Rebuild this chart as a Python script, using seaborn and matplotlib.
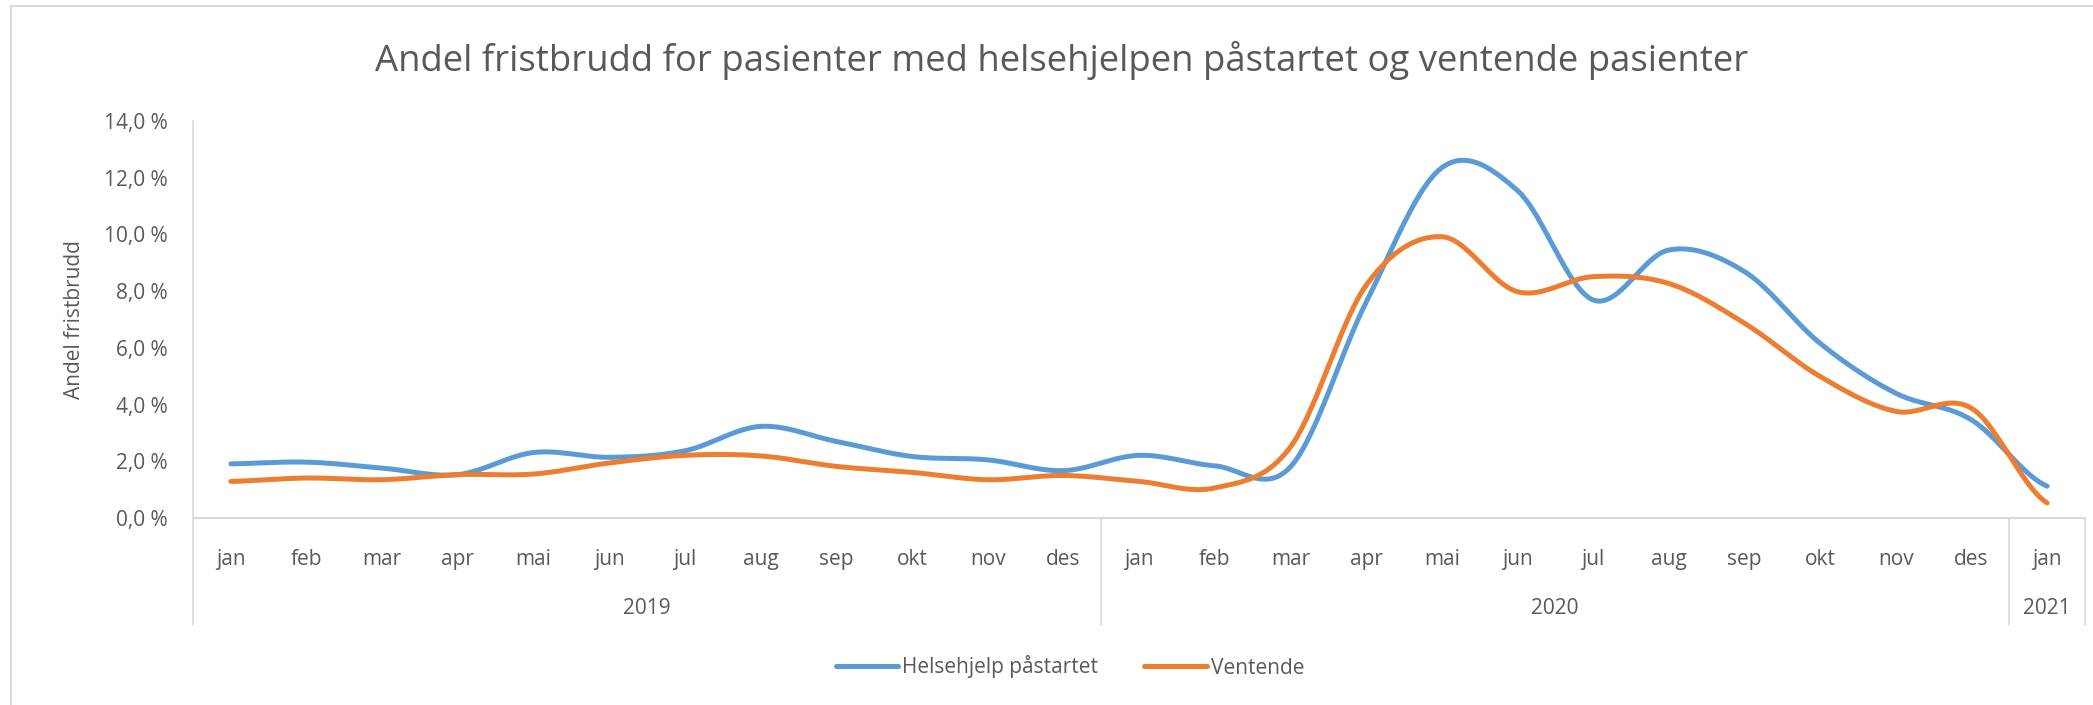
import numpy as np
import pandas as pd
import seaborn as sns
import matplotlib.pyplot as plt
from matplotlib.patches import Rectangle

# Data (percent)
months = ['jan', 'feb', 'mar', 'apr', 'mai', 'jun', 'jul', 'aug', 'sep', 'okt', 'nov', 'des',
          'jan', 'feb', 'mar', 'apr', 'mai', 'jun', 'jul', 'aug', 'sep', 'okt', 'nov', 'des',
          'jan']
years = ['2019', '2020', '2021']
year_counts = [12, 12, 1]
helsehjelp = [1.91, 1.97, 1.76, 1.53, 2.31, 2.14, 2.37, 3.23, 2.70, 2.17, 2.05, 1.67,
              2.21, 1.84, 1.80, 7.60, 12.35, 11.55, 7.69, 9.45, 8.69, 6.16, 4.40, 3.46,
              1.12]
ventende = [1.29, 1.41, 1.35, 1.53, 1.55, 1.94, 2.21, 2.19, 1.82, 1.61, 1.35, 1.50,
            1.29, 1.06, 2.50, 8.20, 9.92, 7.98, 8.51, 8.27, 6.87, 4.99, 3.76, 3.87,
            0.53]

BLUE = '#5B9BD5'
ORANGE = '#ED7D31'
GREY = '#595959'
LINE = '#D9D9D9'


def smooth(y, n=24):
    # Catmull-Rom spline through the points, like Excel's smoothed line
    y = np.asarray(y, dtype=float)
    p = np.concatenate([[y[0]], y, [y[-1]]])
    xs, ys = [], []
    for i in range(len(y) - 1):
        p0, p1, p2, p3 = p[i], p[i + 1], p[i + 2], p[i + 3]
        t = np.linspace(0, 1, n, endpoint=False)
        m1 = (p2 - p0) / 2
        m2 = (p3 - p1) / 2
        h00 = 2 * t**3 - 3 * t**2 + 1
        h10 = t**3 - 2 * t**2 + t
        h01 = -2 * t**3 + 3 * t**2
        h11 = t**3 - t**2
        ys.append(h00 * p1 + h10 * m1 + h01 * p2 + h11 * m2)
        xs.append(i + t)
    xs.append([len(y) - 1])
    ys.append([y[-1]])
    return np.concatenate(xs), np.concatenate(ys)


rows = []
for name, vals in [('Helsehjelp påstartet', helsehjelp), ('Ventende', ventende)]:
    xs, ys = smooth(vals)
    rows.append(pd.DataFrame({'x': xs, 'y': ys, 'serie': name}))
df = pd.concat(rows, ignore_index=True)

sns.set_style('white')
plt.rcParams['font.family'] = ['Open Sans', 'DejaVu Sans']

W, H = 2093, 705
fig = plt.figure(figsize=(W / 100, H / 100), dpi=100)
ax = fig.add_axes([193 / W, 1 - 518 / H, (2085 - 193) / W, (518 - 121) / H])

sns.lineplot(data=df, x='x', y='y', hue='serie', palette=[BLUE, ORANGE],
             linewidth=3.6, sort=False, ax=ax, legend=False)

ax.set_xlim(-0.5, len(months) - 0.5)
ax.set_ylim(0, 14)
ax.set_yticks(np.arange(0, 15, 2))
ax.set_yticklabels([f'{v:.1f} %'.replace('.', ',') for v in np.arange(0, 15, 2)],
                   fontsize=15, color=GREY)
ax.tick_params(axis='y', length=0, pad=18)

for s in ['top', 'right']:
    ax.spines[s].set_visible(False)
ax.spines['left'].set_color(LINE)
ax.spines['bottom'].set_color(LINE)
ax.spines['left'].set_linewidth(1.2)
ax.spines['bottom'].set_linewidth(1.5)

# month boundaries as major ticks, month names as minor labels
ax.set_xticks(np.arange(-0.5, len(months), 1))
ax.set_xticklabels([])
ax.tick_params(axis='x', which='major', length=40, color=LINE, width=1.2)
ax.set_xticks(np.arange(len(months)), minor=True)
ax.set_xticklabels(months, minor=True, fontsize=15, color=GREY)
ax.tick_params(axis='x', which='minor', length=0, pad=22)

# year level
start = 0
for yr, cnt in zip(years, year_counts):
    ax.axvline(start - 0.5, ymin=-0.27, ymax=0, color=LINE, lw=1.2, clip_on=False)
    ax.text(start + (cnt - 1) / 2, -0.227, yr, transform=ax.get_xaxis_transform(),
            ha='center', va='center', fontsize=15, color=GREY)
    start += cnt
ax.axvline(start - 0.5, ymin=-0.27, ymax=0, color=LINE, lw=1.2, clip_on=False)

ax.set_xlabel('')
ax.set_ylabel('Andel fristbrudd', fontsize=15, color=GREY, labelpad=14)

fig.text(1062 / W, 1 - 60 / H,
         'Andel fristbrudd for pasienter med helsehjelpen påstartet og ventende pasienter',
         ha='center', va='center', fontsize=26.3, color=GREY)

# legend
handles = [plt.Line2D([], [], color=BLUE, lw=3.6), plt.Line2D([], [], color=ORANGE, lw=3.6)]
fig.legend(handles, ['Helsehjelp påstartet', 'Ventende'], loc='center',
           bbox_to_anchor=(1070 / W, 1 - 667 / H), ncol=2, frameon=False,
           fontsize=15, labelcolor=GREY, handlelength=3.0, handletextpad=0.2,
           columnspacing=2.2)

fig.patches.append(Rectangle((11 / W, -0.1), 1.2, 1 - 6 / H + 0.1, transform=fig.transFigure,
                             fill=False, edgecolor=LINE, lw=1.5))

fig.savefig('out.png', dpi=100)
